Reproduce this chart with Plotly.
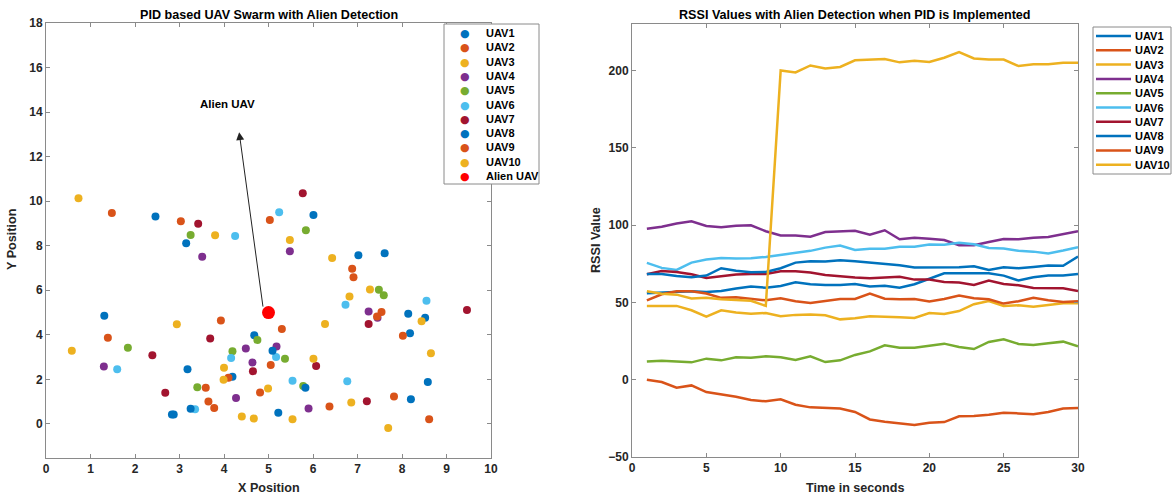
import plotly.graph_objects as go

# ---------------- data: scatter (UAV positions) ----------------
uav1_x = [2.46, 6.01, 3.15, 7.02, 7.61, 1.31, 8.14, 8.52, 8.18, 4.68]
uav1_y = [9.31, 9.38, 8.11, 7.57, 7.66, 4.86, 4.95, 4.77, 4.07, 3.98]
uav2_x = [1.48, 3.03, 5.03, 6.88, 6.91, 7.54, 3.93, 5.30, 1.39, 8.02]
uav2_y = [9.47, 9.10, 9.16, 6.97, 6.58, 5.02, 4.64, 4.26, 3.87, 3.96]
uav3_x = [0.73, 3.80, 5.48, 6.43, 7.28, 6.82, 2.94, 6.27, 8.44, 0.58]
uav3_y = [10.13, 8.47, 8.26, 7.45, 6.04, 5.72, 4.47, 4.49, 4.61, 3.29]
uav4_x = [3.51, 5.48, 7.25, 7.45, 4.49, 5.18, 4.64, 1.30, 4.27, 5.90]
uav4_y = [7.51, 7.75, 5.05, 4.77, 3.39, 3.48, 2.76, 2.58, 1.16, 0.69]
uav5_x = [3.25, 5.84, 7.48, 7.59, 4.75, 1.84, 4.19, 5.37, 3.40, 5.78]
uav5_y = [8.48, 8.69, 6.02, 5.78, 3.77, 3.42, 3.26, 2.93, 1.65, 1.70]
uav6_x = [5.24, 4.25, 8.55, 6.73, 4.16, 5.17, 1.60, 5.54, 6.77, 3.35]
uav6_y = [9.50, 8.44, 5.53, 5.35, 2.96, 3.00, 2.45, 1.94, 1.92, 0.66]
uav7_x = [5.77, 3.42, 9.46, 7.25, 3.69, 2.39, 4.65, 6.07, 2.68, 7.21]
uav7_y = [10.36, 8.99, 5.11, 4.49, 3.84, 3.08, 2.37, 2.60, 1.40, 1.02]
uav8_x = [5.09, 3.18, 4.19, 5.83, 8.58, 8.20, 3.25, 2.83, 2.87, 5.22]
uav8_y = [3.29, 2.46, 2.12, 1.62, 1.88, 1.11, 0.68, 0.42, 0.42, 0.50]
uav9_x = [5.05, 4.10, 3.59, 4.81, 3.65, 3.78, 6.37, 7.82, 8.61, 7.44]
uav9_y = [2.64, 2.07, 1.62, 1.41, 1.01, 0.71, 0.78, 1.23, 0.21, 4.82]
uav10_x = [8.65, 6.01, 4.00, 3.99, 4.99, 6.86, 4.40, 4.67, 5.54, 7.69]
uav10_y = [3.17, 2.93, 2.52, 1.98, 1.59, 0.96, 0.33, 0.24, 0.21, -0.18]
alien_x = [5.0]
alien_y = [5.0]

# ---------------- data: RSSI over time ----------------
time_s = list(range(1, 31))
rssi_uav1 = [55.9, 56.5, 56.7, 57.2, 56.7, 57.4, 58.9, 60.2, 59.5, 60.6, 63.0, 61.7, 61.3, 61.3, 61.9,
             60.2, 60.8, 59.5, 61.7, 65.4, 68.8, 68.8, 68.8, 68.8, 67.3, 64.1, 66.2, 67.3, 67.3, 68.4]
rssi_uav2 = [0.0, -1.5, -5.2, -3.7, -8.0, -9.7, -11.0, -13.2, -14.0, -12.7, -16.2, -17.9, -18.3, -18.6, -20.9,
             -25.7, -27.2, -28.3, -29.3, -27.8, -27.4, -23.7, -23.5, -22.7, -21.4, -21.8, -22.4, -20.9, -18.6, -18.3]
rssi_uav3 = [47.7, 47.7, 47.7, 44.9, 40.8, 44.9, 43.4, 42.7, 43.1, 41.0, 41.9, 42.1, 41.6, 39.0, 39.7,
             41.0, 40.8, 40.3, 39.9, 43.1, 42.5, 44.4, 48.8, 50.9, 47.7, 48.1, 47.2, 48.5, 49.4, 49.4]
rssi_uav4 = [97.6, 98.9, 101.0, 102.4, 99.4, 98.5, 99.6, 99.8, 96.0, 93.3, 93.3, 92.5, 95.5, 95.7, 96.3,
             93.8, 96.6, 90.8, 91.8, 91.2, 90.3, 86.9, 86.9, 89.0, 91.0, 90.8, 91.8, 92.3, 94.4, 96.0]
rssi_uav5 = [11.7, 12.3, 11.7, 11.2, 13.6, 12.5, 14.5, 14.2, 15.1, 14.5, 12.7, 15.1, 11.4, 12.5, 16.0,
             18.3, 22.2, 20.7, 20.7, 21.8, 23.3, 21.1, 19.8, 24.4, 26.1, 23.1, 22.4, 23.5, 24.6, 21.6]
rssi_uav6 = [75.5, 72.3, 71.0, 75.7, 77.7, 78.7, 78.3, 78.5, 79.4, 80.7, 82.2, 83.3, 85.4, 86.7, 83.9,
             84.6, 84.6, 85.9, 85.9, 87.4, 87.2, 88.5, 87.6, 85.2, 84.8, 83.3, 82.8, 81.6, 83.5, 85.7]
rssi_uav7 = [68.2, 70.3, 69.7, 68.2, 65.8, 67.1, 68.0, 68.4, 68.4, 70.1, 70.1, 69.3, 67.7, 66.9, 66.0,
             65.6, 66.2, 66.5, 64.7, 64.7, 63.2, 62.8, 61.3, 64.1, 61.9, 61.1, 59.3, 59.3, 59.1, 57.4]
rssi_uav8 = [68.4, 68.4, 67.1, 66.2, 67.3, 72.1, 70.5, 69.5, 69.7, 72.1, 75.7, 76.6, 76.4, 77.2, 76.6,
             75.7, 74.9, 74.0, 72.5, 72.7, 72.7, 72.7, 73.4, 71.0, 72.7, 72.1, 72.9, 73.8, 73.6, 79.6]
rssi_uav9 = [51.3, 55.2, 57.2, 57.2, 55.7, 52.9, 53.3, 52.4, 51.3, 52.6, 50.7, 49.6, 50.9, 52.2, 52.2,
             55.7, 52.4, 52.0, 52.2, 50.5, 52.2, 54.4, 52.6, 52.0, 49.2, 50.7, 52.9, 51.3, 50.3, 50.7]
rssi_uav10 = [57.2, 55.5, 55.0, 52.5, 53.0, 52.0, 51.5, 51.0, 47.7, 200.0, 198.7, 203.2, 201.3, 202.2, 206.5,
              207.0, 207.3, 205.2, 206.2, 205.4, 208.2, 211.8, 207.7, 207.0, 207.0, 202.8, 204.0, 204.0, 205.0, 204.9]

names = ["UAV1", "UAV2", "UAV3", "UAV4", "UAV5", "UAV6", "UAV7", "UAV8", "UAV9", "UAV10"]
colors = ["#0072BD", "#D95319", "#EDB120", "#7E2F8E", "#77AC30", "#4DBEEE", "#A2142F",
          "#0072BD", "#D95319", "#EDB120"]
alien_name = "Alien UAV"
alien_color = "#FF0000"
pos_x = [uav1_x, uav2_x, uav3_x, uav4_x, uav5_x, uav6_x, uav7_x, uav8_x, uav9_x, uav10_x]
pos_y = [uav1_y, uav2_y, uav3_y, uav4_y, uav5_y, uav6_y, uav7_y, uav8_y, uav9_y, uav10_y]
rssi = [rssi_uav1, rssi_uav2, rssi_uav3, rssi_uav4, rssi_uav5, rssi_uav6, rssi_uav7,
        rssi_uav8, rssi_uav9, rssi_uav10]

FONT = "Liberation Sans, Arial, sans-serif"
TXT = "#262626"
AX = "#8a8a8a"
W, H = 1172, 497


def px_x(p):
    return p / W


def px_y(p):
    return 1 - p / H


fig = go.Figure()

for n, c, xs, ys in zip(names, colors, pos_x, pos_y):
    fig.add_trace(go.Scatter(x=xs, y=ys, mode="markers", name=n, showlegend=False,
                             marker=dict(color=c, size=8, line=dict(width=0)),
                             xaxis="x", yaxis="y"))
fig.add_trace(go.Scatter(x=alien_x, y=alien_y, mode="markers", name=alien_name, showlegend=False,
                         marker=dict(color=alien_color, size=13, line=dict(width=0)),
                         xaxis="x", yaxis="y"))

for n, c, r in zip(names, colors, rssi):
    fig.add_trace(go.Scatter(x=time_s, y=r, mode="lines", name=n, showlegend=False,
                             line=dict(color=c, width=2.5),
                             xaxis="x2", yaxis="y2"))

axis_common = dict(showline=True, linecolor=AX, linewidth=1, mirror="ticks",
                   ticks="inside", ticklen=4, tickcolor=AX, showgrid=False, zeroline=False,
                   automargin=False,
                   tickfont=dict(family=FONT, size=12, color=TXT, weight="bold"))

fig.update_layout(
    width=W, height=H,
    margin=dict(l=0, r=0, t=0, b=0, autoexpand=False),
    plot_bgcolor="white", paper_bgcolor="white",
    font=dict(family=FONT, color=TXT),
    showlegend=False,
    xaxis=dict(domain=[px_x(46), px_x(491)], range=[0, 10], dtick=1, anchor="y", **axis_common),
    yaxis=dict(domain=[px_y(458), px_y(23)], range=[-1.53, 18.0], dtick=2, anchor="x", **axis_common),
    xaxis2=dict(domain=[px_x(632), px_x(1078)], range=[0, 30], dtick=5, anchor="y2", **axis_common),
    yaxis2=dict(domain=[px_y(457), px_y(24)], range=[-50, 230], tickvals=[-50, 0, 50, 100, 150, 200],
                anchor="x2", **axis_common),
)

ann = []
shapes = []
title_font = dict(family=FONT, size=12.6, color="black", weight="bold")
label_font = dict(family=FONT, size=12.6, color=TXT, weight="bold")


def text_ann(text, x, y, font, angle=0, xanchor="center", yanchor="middle", align="center"):
    return dict(text=text, x=x, y=y, xref="paper", yref="paper", showarrow=False,
                xanchor=xanchor, yanchor=yanchor, align=align, textangle=angle, font=font)


ann.append(text_ann("PID based UAV Swarm with Alien Detection", px_x(268.5), px_y(15), title_font))
ann.append(text_ann("RSSI Values with Alien Detection when PID is Implemented", px_x(855), px_y(15), title_font))
ann.append(text_ann("X Position", px_x(268.5), px_y(488), label_font))
ann.append(text_ann("Time in seconds", px_x(855), px_y(488), label_font))
ann.append(text_ann("Y Position", px_x(12), px_y(240), label_font, angle=-90))
ann.append(text_ann("RSSI Value", px_x(596), px_y(240), label_font, angle=-90))

# arrow pointing from alien UAV to its label
ann.append(dict(text="", x=4.34, y=13.1, ax=4.88, ay=5.2, xref="x", yref="y", axref="x", ayref="y",
                showarrow=True, arrowhead=2, arrowsize=1.6, arrowwidth=1, arrowcolor="#222222"))
ann.append(dict(text="Alien UAV", x=4.07, y=14.36, xref="x", yref="y", showarrow=False,
                xanchor="center", yanchor="middle",
                font=dict(family=FONT, size=11.5, color="black", weight="bold")))

# ---------- legends (MATLAB-style compact boxes) ----------
LEG_FS = 11
LINE_H = LEG_FS * 1.3
leg_font = dict(family=FONT, size=LEG_FS, color="black", weight="bold")

# left legend: markers
left_names = names + [alien_name]
left_colors = colors + [alien_color]
first_row = 33.5
shapes.append(dict(type="rect", xref="paper", yref="paper", x0=px_x(444), x1=px_x(539),
                   y0=px_y(184), y1=px_y(24), line=dict(color=AX, width=1), fillcolor="white",
                   layer="above"))
marker_col = "<br>".join(f'<span style="color:{c}">●</span>' for c in left_colors)
text_col = "<br>".join(left_names)
top_y = first_row - LINE_H / 2 - 1
ann.append(text_ann(marker_col, px_x(465), px_y(top_y),
                    dict(family="DejaVu Sans", size=LEG_FS, color="black"), yanchor="top"))
ann.append(text_ann(text_col, px_x(484), px_y(top_y), leg_font, xanchor="left", yanchor="top", align="left"))

# right legend: lines
shapes.append(dict(type="rect", xref="paper", yref="paper", x0=px_x(1093), x1=px_x(1171),
                   y0=px_y(174), y1=px_y(27), line=dict(color=AX, width=1), fillcolor="white",
                   layer="above"))
first_row2 = 36.0
for i, c in enumerate(colors):
    yy = px_y(first_row2 + i * LINE_H)
    shapes.append(dict(type="line", xref="paper", yref="paper", x0=px_x(1096), x1=px_x(1131),
                       y0=yy, y1=yy, line=dict(color=c, width=2.5), layer="above"))
ann.append(text_ann("<br>".join(names), px_x(1133), px_y(first_row2 - LINE_H / 2 - 1), leg_font,
                    xanchor="left", yanchor="top", align="left"))

fig.update_layout(annotations=ann, shapes=shapes)

fig.write_html("out.html")
